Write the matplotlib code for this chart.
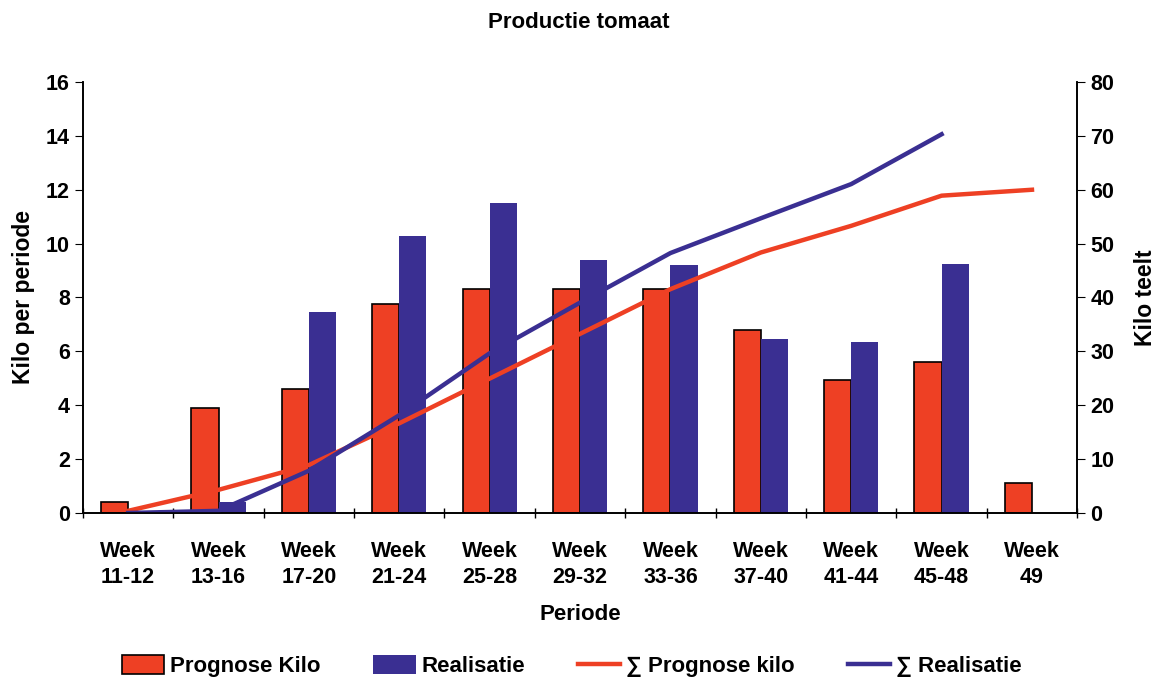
import numpy as np
import matplotlib
matplotlib.use("Agg")
import matplotlib.pyplot as plt
from matplotlib.ticker import FixedLocator

plt.rcParams["font.family"] = ["Liberation Sans", "DejaVu Sans"]
plt.rcParams["font.weight"] = "bold"

periods = ["Week\n11-12", "Week\n13-16", "Week\n17-20", "Week\n21-24", "Week\n25-28",
           "Week\n29-32", "Week\n33-36", "Week\n37-40", "Week\n41-44", "Week\n45-48",
           "Week\n49"]
prognose = [0.4, 3.9, 4.6, 7.75, 8.3, 8.3, 8.3, 6.8, 4.95, 5.6, 1.1]
realisatie = [0.0, 0.4, 7.45, 10.3, 11.5, 9.4, 9.2, 6.45, 6.35, 9.25]
cum_prognose = [0.4, 4.3, 8.9, 16.65, 24.95, 33.25, 41.55, 48.35, 53.3, 58.9, 60.0]
cum_realisatie = [0.0, 0.4, 7.85, 18.15, 29.65, 39.05, 48.25, 54.7, 61.05, 70.3]

red = "#EE4024"
blue = "#3A2F92"
fs = 15.5


def main() -> None:
    fig = plt.figure(figsize=(11.57, 6.81), dpi=100)
    ax = fig.add_axes([0.0717, 0.2467, 0.8593, 0.6329])
    ax2 = ax.twinx()

    x = np.arange(len(periods))
    w = 0.3
    ax.bar(x - w / 2, prognose, w, color=red, edgecolor="black", linewidth=1.2,
           label="Prognose Kilo", zorder=2)
    xr = np.arange(len(realisatie))
    ax.bar(xr + w / 2, realisatie, w, color=blue, edgecolor="none",
           label="Realisatie", zorder=2)

    l1, = ax2.plot(x, cum_prognose, color=red, lw=3.2, label="\u2211 Prognose kilo")
    l2, = ax2.plot(xr, cum_realisatie, color=blue, lw=3.2, label="\u2211 Realisatie")

    ax.set_xlim(-0.5, len(periods) - 0.5)
    ax.set_ylim(0, 16)
    ax2.set_ylim(0, 80)
    ax.set_yticks(range(0, 17, 2))
    ax2.set_yticks(range(0, 81, 10))

    ax.set_xticks(x)
    ax.set_xticklabels(periods, fontsize=fs, fontweight="bold", linespacing=1.3)
    ax.tick_params(axis="x", which="major", length=0, pad=20)
    ax.xaxis.set_minor_locator(FixedLocator(np.arange(-0.5, len(periods), 1.0)))
    ax.tick_params(axis="x", which="minor", length=7, width=1, direction="inout")
    ax.tick_params(axis="y", labelsize=fs, length=6, direction="out")
    ax2.tick_params(axis="y", labelsize=fs, length=6, direction="out")
    for lab in ax.get_yticklabels() + ax2.get_yticklabels():
        lab.set_fontweight("bold")

    for a in (ax, ax2):
        a.spines["top"].set_visible(False)
        a.spines["left"].set_linewidth(1.2)
        a.spines["right"].set_linewidth(1.2)
        a.spines["bottom"].set_linewidth(1.2)

    ax.set_ylabel("Kilo per periode", fontsize=16.5, fontweight="bold", labelpad=8)
    ax2.set_ylabel("Kilo teelt", fontsize=16.5, fontweight="bold", labelpad=14)
    ax.set_xlabel("Periode", fontsize=16, fontweight="bold", labelpad=12)
    fig.suptitle("Productie tomaat", fontsize=16, fontweight="bold", y=0.982)

    h1, lb1 = ax.get_legend_handles_labels()
    fig.legend(h1 + [l1, l2], lb1 + [l1.get_label(), l2.get_label()],
               loc="center", bbox_to_anchor=(0.494, 0.022), ncol=4, frameon=False,
               prop={"size": 16, "weight": "bold"}, columnspacing=2.4,
               handlelength=1.9, handleheight=0.9, handletextpad=0.25)

    fig.savefig("out.png", dpi=100)


if __name__ == "__main__":
    main()
